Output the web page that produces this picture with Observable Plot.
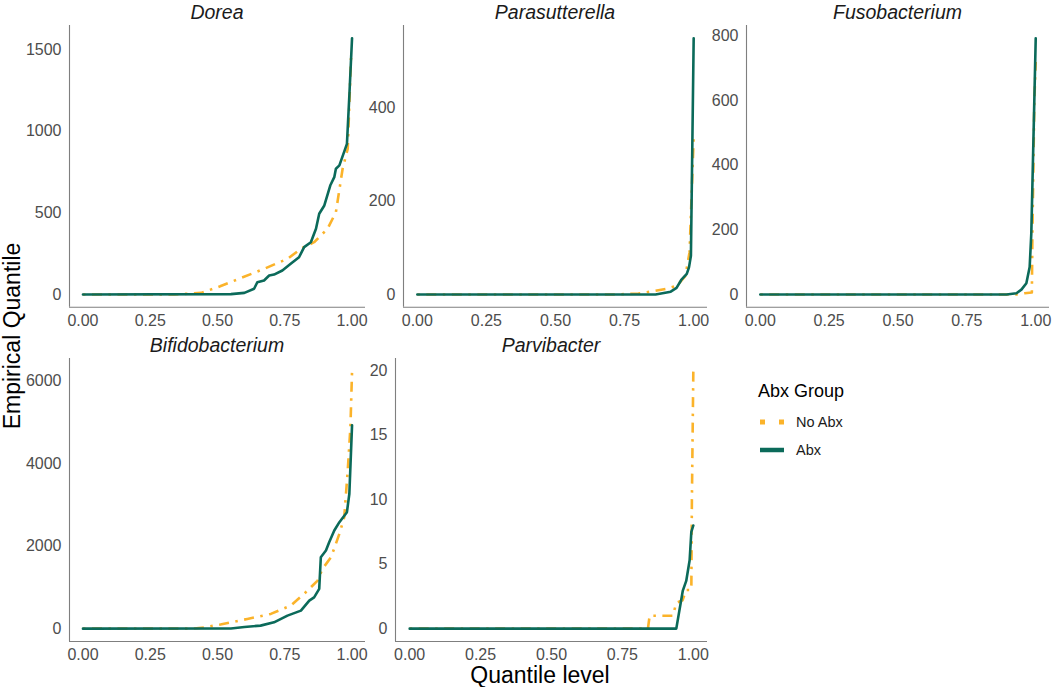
<!DOCTYPE html>
<html>
<head>
<meta charset="utf-8">
<script src="https://cdn.jsdelivr.net/npm/d3@7"></script>
<script src="https://cdn.jsdelivr.net/npm/@observablehq/plot@0.6"></script>
<style>
  html, body { margin: 0; padding: 0; background: #fff; }
  #chart { position: relative; width: 1052px; height: 687px; font-family: "Liberation Sans", Arial, sans-serif; overflow: hidden; }
  .abs { position: absolute; white-space: nowrap; }
  .strip { font-style: italic; font-size: 19.5px; color: #1a1a1a; text-align: center; line-height: 22px; }
  .axtitle { font-size: 23px; color: #000; line-height: 26px; }
  .legtitle { font-size: 18px; color: #000; line-height: 20px; }
  .legitem { font-size: 14.5px; color: #1a1a1a; line-height: 18px; }
</style>
</head>
<body>
<div id="chart"></div>
<script>
// ---- data: [quantile level, empirical quantile] ----
const panelNames = ["Dorea", "Parasutterella", "Fusobacterium", "Bifidobacterium", "Parvibacter"];
const groupNames = ["No Abx", "Abx"];
const xTickValues = [0, 0.25, 0.5, 0.75, 1];

const doreaNoAbx = [[0,0],[0.34,0],[0.44,10],[0.51,50],[0.586,100],[0.673,157],[0.76,218],[0.81,280],[0.859,320],[0.909,402],[0.94,504],[0.965,770],[0.984,892],[0.996,1443],[1.0,1460]];
const doreaAbx = [[0,0],[0.55,2],[0.60,10],[0.636,35],[0.648,75],[0.673,86],[0.692,116],[0.71,122],[0.741,147],[0.772,188],[0.803,228],[0.822,290],[0.847,320],[0.866,402],[0.878,494],[0.897,545],[0.919,667],[0.934,718],[0.94,770],[0.953,790],[0.981,922],[0.99,1218],[1.0,1568]];

const parasutterellaNoAbx = [[0,0],[0.72,0],[0.8,2],[0.855,7],[0.9,12],[0.94,19],[0.97,40],[0.985,90],[1.0,336]];
const parasutterellaAbx = [[0,0],[0.862,0],[0.917,6],[0.938,14],[0.955,31],[0.975,44],[0.983,58],[0.99,83],[1.0,548]];

const fusobacteriumNoAbx = [[0,0],[0.93,0],[0.96,4],[0.986,6],[0.988,190],[0.995,600],[1.0,720]];
const fusobacteriumAbx = [[0,0],[0.894,0],[0.93,4],[0.948,15],[0.966,35],[0.978,85],[0.984,190],[1.0,793]];

const bifidobacteriumNoAbx = [[0,0],[0.41,0],[0.45,30],[0.511,100],[0.611,235],[0.698,357],[0.772,559],[0.822,843],[0.872,1166],[0.89,1450],[0.922,1732],[0.953,2300],[0.971,2703],[0.984,3838],[0.994,4890],[1.0,6240]];
const bifidobacteriumAbx = [[0,0],[0.55,5],[0.60,40],[0.66,73],[0.71,153],[0.76,316],[0.81,437],[0.841,680],[0.859,760],[0.878,964],[0.884,1732],[0.903,1895],[0.915,2096],[0.934,2380],[0.953,2582],[0.981,2825],[0.99,3272],[1.0,4931]];

const parvibacterNoAbx = [[0,0],[0.84,0],[0.846,1],[0.928,1],[0.94,2],[0.962,2.2],[0.975,3],[0.993,3],[0.995,10],[1.0,19.95]];
const parvibacterAbx = [[0,0],[0.94,0],[0.963,2.95],[0.975,3.7],[0.987,5.3],[0.993,7.5],[1.0,8.0]];

const doreaTicks = [0, 500, 1000, 1500];
const parasutterellaTicks = [0, 200, 400];
const fusobacteriumTicks = [0, 200, 400, 600, 800];
const bifidobacteriumTicks = [0, 2000, 4000, 6000];
const parvibacterTicks = [0, 5, 10, 15, 20];

// ---- styling ----
const ORANGE = "#FBB32A";
const GREEN = "#0B6A5A";
const DASH = "2.5 6.5 10 6.5";
const AXIS = "#7f7f7f";
const FONT = "'Liberation Sans', Arial, sans-serif";

const chart = document.getElementById("chart");

function addDiv(cls, text, css) {
  const d = document.createElement("div");
  d.className = "abs " + cls;
  d.textContent = text;
  Object.assign(d.style, css);
  chart.appendChild(d);
  return d;
}

function panel(name, noAbx, abx, yTicks, box) {
  const M = d3.max(noAbx.concat(abx), d => d[1]);
  const xDomain = [-0.05, 1.05];
  const yDomain = [-0.05 * M, 1.05 * M];
  const mL = 50, mR = 6, mT = 4, mB = 32;
  const width = box.R - box.L + mL + mR;
  const height = box.B - box.T + mT + mB;
  const svg = Plot.plot({
    width, height,
    marginLeft: mL, marginRight: mR, marginTop: mT, marginBottom: mB,
    style: { fontFamily: FONT, fontSize: "16px", color: "#4d4d4d", background: "transparent", overflow: "visible" },
    x: { domain: xDomain, label: null },
    y: { domain: yDomain, label: null },
    marks: [
      Plot.axisX(xTickValues, { tickSize: 0, tickPadding: 7, tickFormat: d3.format(".2f"), fill: "#4d4d4d", fontSize: 16 }),
      Plot.axisY(yTicks, { tickSize: 0, tickPadding: 8, tickFormat: d => String(d), fill: "#4d4d4d", fontSize: 16 }),
      Plot.ruleX([xDomain[0]], { stroke: AXIS, strokeWidth: 1.1 }),
      Plot.ruleY([yDomain[0]], { stroke: AXIS, strokeWidth: 1.1 }),
      Plot.line(noAbx, { x: d => d[0], y: d => d[1], stroke: ORANGE, strokeWidth: 2.6, strokeDasharray: DASH, strokeLinecap: "butt" }),
      Plot.line(abx, { x: d => d[0], y: d => d[1], stroke: GREEN, strokeWidth: 2.6 })
    ]
  });
  svg.style.position = "absolute";
  svg.style.left = (box.L - mL) + "px";
  svg.style.top = (box.T - mT) + "px";
  chart.appendChild(svg);
  addDiv("strip", name, { left: box.L + "px", width: (box.R - box.L) + "px", top: (box.T - 24) + "px" });
}

const boxes = [
  { L: 69, R: 365, T: 25, B: 306.8 },
  { L: 403, R: 707, T: 25, B: 306.8 },
  { L: 746, R: 1049, T: 25, B: 306.8 },
  { L: 69, R: 365, T: 358, B: 641 },
  { L: 395, R: 707, T: 358, B: 641 }
];

panel(panelNames[0], doreaNoAbx, doreaAbx, doreaTicks, boxes[0]);
panel(panelNames[1], parasutterellaNoAbx, parasutterellaAbx, parasutterellaTicks, boxes[1]);
panel(panelNames[2], fusobacteriumNoAbx, fusobacteriumAbx, fusobacteriumTicks, boxes[2]);
panel(panelNames[3], bifidobacteriumNoAbx, bifidobacteriumAbx, bifidobacteriumTicks, boxes[3]);
panel(panelNames[4], parvibacterNoAbx, parvibacterAbx, parvibacterTicks, boxes[4]);

// axis titles
const yt = addDiv("axtitle", "Empirical Quantile", { left: "12px", top: "336px" });
yt.style.transform = "translate(-50%, -50%) rotate(-90deg)";
const xt = addDiv("axtitle", "Quantile level", { left: "540px", top: "675px" });
xt.style.transform = "translate(-50%, -50%)";

// legend
addDiv("legtitle", "Abx Group", { left: "758px", top: "381px" });
const keys = [
  { label: groupNames[0], color: ORANGE, dash: "5 14", w: 5, y: 422 },
  { label: groupNames[1], color: GREEN, dash: null, w: 4.5, y: 450 }
];
keys.forEach(k => {
  const ns = "http://www.w3.org/2000/svg";
  const s = document.createElementNS(ns, "svg");
  s.setAttribute("width", 26); s.setAttribute("height", 12);
  s.style.position = "absolute";
  s.style.left = "759px";
  s.style.top = (k.y - 6) + "px";
  const l = document.createElementNS(ns, "line");
  l.setAttribute("x1", 1); l.setAttribute("x2", 25);
  l.setAttribute("y1", 6); l.setAttribute("y2", 6);
  l.setAttribute("stroke", k.color);
  l.setAttribute("stroke-width", k.w);
  if (k.dash) l.setAttribute("stroke-dasharray", k.dash);
  s.appendChild(l);
  chart.appendChild(s);
  addDiv("legitem", k.label, { left: "796px", top: (k.y - 9) + "px" });
});
</script>
</body>
</html>
